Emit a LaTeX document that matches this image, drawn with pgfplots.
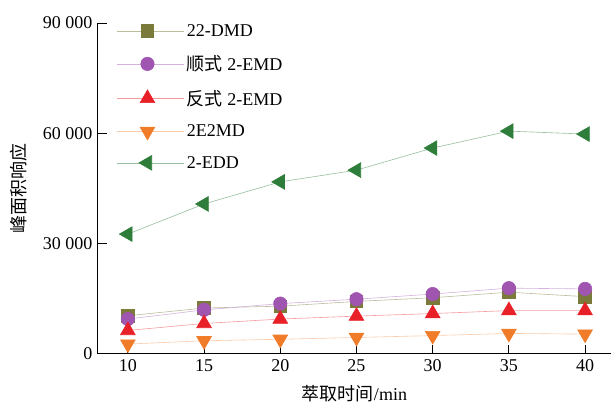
\documentclass[border=0pt]{standalone}
\usepackage{fontspec}
\setmainfont{Liberation Serif}
\newfontfamily\cjk{Noto Sans CJK SC}
\usepackage{pgfplots}
\pgfplotsset{compat=1.18}
\definecolor{cOl}{RGB}{122,122,58}
\definecolor{cPu}{RGB}{160,85,176}
\definecolor{cRe}{RGB}{232,32,40}
\definecolor{cOr}{RGB}{240,124,42}
\definecolor{cGr}{RGB}{47,125,58}
\begin{document}
\begin{tikzpicture}
\begin{axis}[
  name=ax, scale only axis, width=513pt, height=331pt,
  xmin=8.04, xmax=41.7, ymin=0, ymax=90000,
  axis lines*=left,
  axis line style={line width=1pt, black},
  tick align=inside, major tick length=9pt,
  tick style={line width=1pt, black},
  xtick={10,15,20,25,30,35,40},
  ytick={0,30000,60000,90000},
  yticklabels={0,30\ 000,60\ 000,90\ 000},
  scaled y ticks=false,
  font=\fontsize{18pt}{21pt}\selectfont,
  /pgf/number format/assume math mode=true,
  xticklabel style={yshift=-2pt},
  yticklabel style={xshift=-2pt},
  xlabel={{\cjk 萃取时间}/min},
  ylabel={\cjk 峰面积响应},
  xlabel style={at={(axis description cs:0.5,-0.12)}, anchor=center},
  ylabel style={at={(axis description cs:-0.155,0.5)}, anchor=center},
  legend cell align=left,
  legend style={draw=none, fill=none, inner sep=0pt, row sep=14pt,
    at={(axis description cs:0.037,1.003)}, anchor=north west,
    font=\fontsize{18pt}{21pt}\selectfont},
  legend image code/.code={\path (0pt,0pt) -- (67pt,0pt);\draw[mark repeat=2,mark phase=2,#1] plot coordinates {(0pt,0pt) (30pt,0pt) (60pt,0pt)};},
]
\addplot[color=cOl!50, line width=0.6pt, mark=square*, mark size=6.3pt, mark options={fill=cOl, draw=cOl}]
 coordinates {(10,10400) (15,12500) (20,13000) (25,14300) (30,15300) (35,16800) (40,15600)};
\addlegendentry{22-DMD}
\addplot[color=cPu!45, line width=0.6pt, mark=*, mark size=6.7pt, mark options={fill=cPu, draw=cPu}]
 coordinates {(10,9500) (15,12000) (20,13700) (25,14900) (30,16300) (35,17900) (40,17700)};
\addlegendentry{{\cjk 顺式} 2-EMD}
\addplot[color=cRe!45, line width=0.6pt, mark=triangle*, mark size=8.5pt, mark options={fill=cRe, draw=cRe}]
 coordinates {(10,6400) (15,8300) (20,9500) (25,10300) (30,11000) (35,11800) (40,11800)};
\addlegendentry{{\cjk 反式} 2-EMD}
\addplot[color=cOr!40, line width=0.6pt, mark=triangle*, mark size=8.5pt, mark options={fill=cOr, draw=cOr, rotate=180}]
 coordinates {(10,2700) (15,3600) (20,4000) (25,4500) (30,5000) (35,5600) (40,5400)};
\addlegendentry{2E2MD}
\addplot[color=cGr!50, line width=0.6pt, mark=triangle*, mark size=8.5pt, mark options={fill=cGr, draw=cGr, rotate=90}]
 coordinates {(10,32600) (15,40800) (20,46800) (25,50000) (30,56000) (35,60600) (40,59800)};
\addlegendentry{2-EDD}
\end{axis}
\pgfresetboundingbox
\path[use as bounding box] ([xshift=-98pt,yshift=-54pt]ax.south west) rectangle ([yshift=23pt]ax.north east);
\end{tikzpicture}
\end{document}
